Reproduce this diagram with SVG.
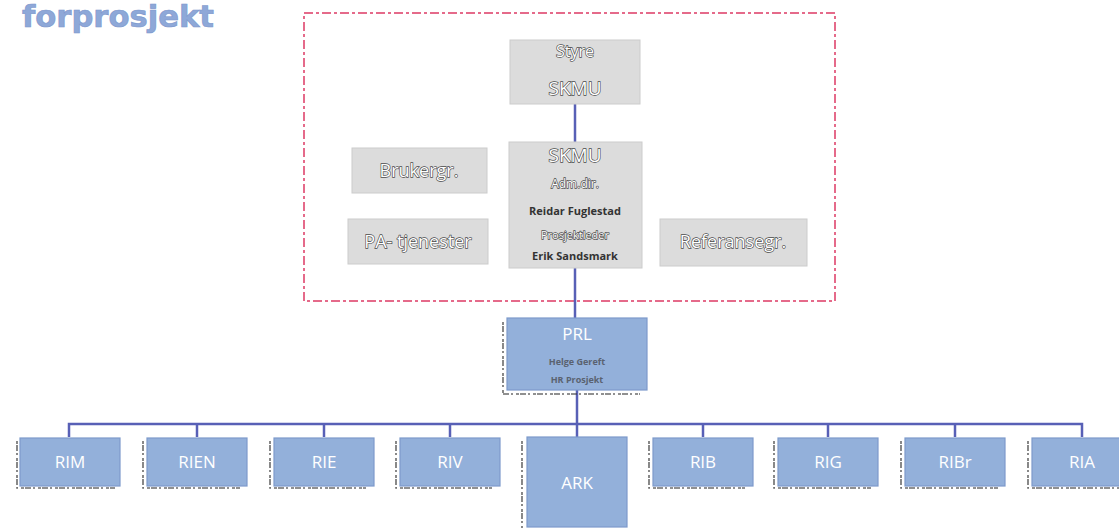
<svg xmlns="http://www.w3.org/2000/svg" width="1119" height="528" viewBox="0 0 1119 528">
<style>
.bg{fill:#ffffff}
.title{font-family:"DejaVu Sans Condensed","DejaVu Sans",sans-serif;font-weight:bold;font-size:31px;fill:#8ea8d8;stroke:#7d97cc;stroke-width:0.6}
.frame{fill:none;stroke:#e56a8a;stroke-width:2;stroke-dasharray:9 3 3 3}
.gray{fill:#dcdcdc;stroke:#cccccc;stroke-width:1}
.wt{font-family:"Open Sans","Liberation Sans",sans-serif;fill:#ffffff;stroke:#4a4a4a;stroke-width:1.3;paint-order:stroke;text-anchor:middle}
.dk{font-family:"Open Sans","Liberation Sans",sans-serif;font-weight:bold;fill:#333333;text-anchor:middle}
.blue{fill:#93b0da;stroke:#7d9acb;stroke-width:1.2}
.bt{font-family:"Open Sans","Liberation Sans",sans-serif;fill:#ffffff;font-size:17px;text-anchor:middle}
.prlsub{font-family:"Open Sans","Liberation Sans",sans-serif;font-weight:bold;fill:#5a6270;font-size:9px;text-anchor:middle}
.conn{fill:none;stroke:#5860b6;stroke-width:2.5}
.shadow{fill:none;stroke:#3a3a3a;stroke-width:1.6;stroke-dasharray:3 1 6 2 2 3;opacity:0.75}
</style>
<rect class="bg" x="0" y="0" width="1119" height="528"/>
<text id="title" class="title" x="22" y="27" textLength="192" lengthAdjust="spacingAndGlyphs">forprosjekt</text>
<rect id="frame" class="frame" x="304" y="13" width="531" height="288"/>
<g id="connectors">
  <line class="conn" x1="575" y1="104" x2="575" y2="142"/>
  <line class="conn" x1="575" y1="268" x2="575" y2="318"/>
  <line class="conn" x1="577" y1="390" x2="577" y2="437"/>
  <polyline class="conn" points="69,437 69,424 1082,424 1082,437"/>
  <line class="conn" x1="197" y1="424" x2="197" y2="437"/>
  <line class="conn" x1="324" y1="424" x2="324" y2="437"/>
  <line class="conn" x1="450" y1="424" x2="450" y2="437"/>
  <line class="conn" x1="703" y1="424" x2="703" y2="437"/>
  <line class="conn" x1="828" y1="424" x2="828" y2="437"/>
  <line class="conn" x1="955" y1="424" x2="955" y2="437"/>
</g>
<g id="styre">
  <rect class="gray" x="510" y="40" width="130" height="64"/>
  <text class="wt" x="575" y="57" font-size="16">Styre</text>
  <text class="wt" x="575" y="95" font-size="19">SKMU</text>
</g>
<g id="skmu">
  <rect class="gray" x="509" y="142" width="133" height="126"/>
  <text class="wt" x="575" y="162" font-size="19">SKMU</text>
  <text class="wt" x="575" y="188" font-size="12">Adm.dir.</text>
  <text class="dk" x="575" y="215" font-size="11">Reidar Fuglestad</text>
  <text class="wt" x="575" y="239" font-size="11">Prosjektleder</text>
  <text class="dk" x="575" y="260" font-size="11">Erik Sandsmark</text>
</g>
<g id="brukergr">
  <rect class="gray" x="352" y="148" width="135" height="45"/>
  <text class="wt" x="419" y="177" font-size="18">Brukergr.</text>
</g>
<g id="pa">
  <rect class="gray" x="348" y="219" width="140" height="45"/>
  <text class="wt" x="418" y="248" font-size="18">PA- tjenester</text>
</g>
<g id="referansegr">
  <rect class="gray" x="660" y="219" width="147" height="47"/>
  <text class="wt" x="733" y="248" font-size="18">Referansegr.</text>
</g>
<g id="prl">
  <path class="shadow" d="M503,322 V394 H640"/>
  <rect class="blue" x="507" y="318" width="140" height="72"/>
  <text class="bt" x="577" y="340" font-size="17">PRL</text>
  <text class="prlsub" x="577" y="365">Helge Gereft</text>
  <text class="prlsub" x="577" y="383">HR Prosjekt</text>
</g>
<g id="rim">
  <path class="shadow" d="M17,441 V488 H115"/>
  <rect class="blue" x="20" y="438" width="100" height="48"/>
  <text class="bt" x="70" y="468">RIM</text>
</g>
<g id="rien">
  <path class="shadow" d="M143,441 V488 H240"/>
  <rect class="blue" x="147" y="438" width="100" height="48"/>
  <text class="bt" x="197" y="468">RIEN</text>
</g>
<g id="rie">
  <path class="shadow" d="M270,441 V488 H366"/>
  <rect class="blue" x="274" y="438" width="100" height="48"/>
  <text class="bt" x="324" y="468">RIE</text>
</g>
<g id="riv">
  <path class="shadow" d="M396,441 V488 H492"/>
  <rect class="blue" x="400" y="438" width="100" height="48"/>
  <text class="bt" x="450" y="468">RIV</text>
</g>
<g id="ark">
  <path class="shadow" d="M522,441 V528"/>
  <rect class="blue" x="527" y="437" width="100" height="90"/>
  <text class="bt" x="577" y="489">ARK</text>
</g>
<g id="rib">
  <path class="shadow" d="M649,441 V488 H745"/>
  <rect class="blue" x="653" y="438" width="100" height="48"/>
  <text class="bt" x="703" y="468">RIB</text>
</g>
<g id="rig">
  <path class="shadow" d="M774,441 V488 H871"/>
  <rect class="blue" x="778" y="438" width="100" height="48"/>
  <text class="bt" x="828" y="468">RIG</text>
</g>
<g id="ribr">
  <path class="shadow" d="M901,441 V488 H998"/>
  <rect class="blue" x="905" y="438" width="100" height="48"/>
  <text class="bt" x="955" y="468">RIBr</text>
</g>
<g id="ria">
  <path class="shadow" d="M1028,441 V488 H1119"/>
  <rect class="blue" x="1032" y="438" width="100" height="48"/>
  <text class="bt" x="1082" y="468">RIA</text>
</g>
</svg>
